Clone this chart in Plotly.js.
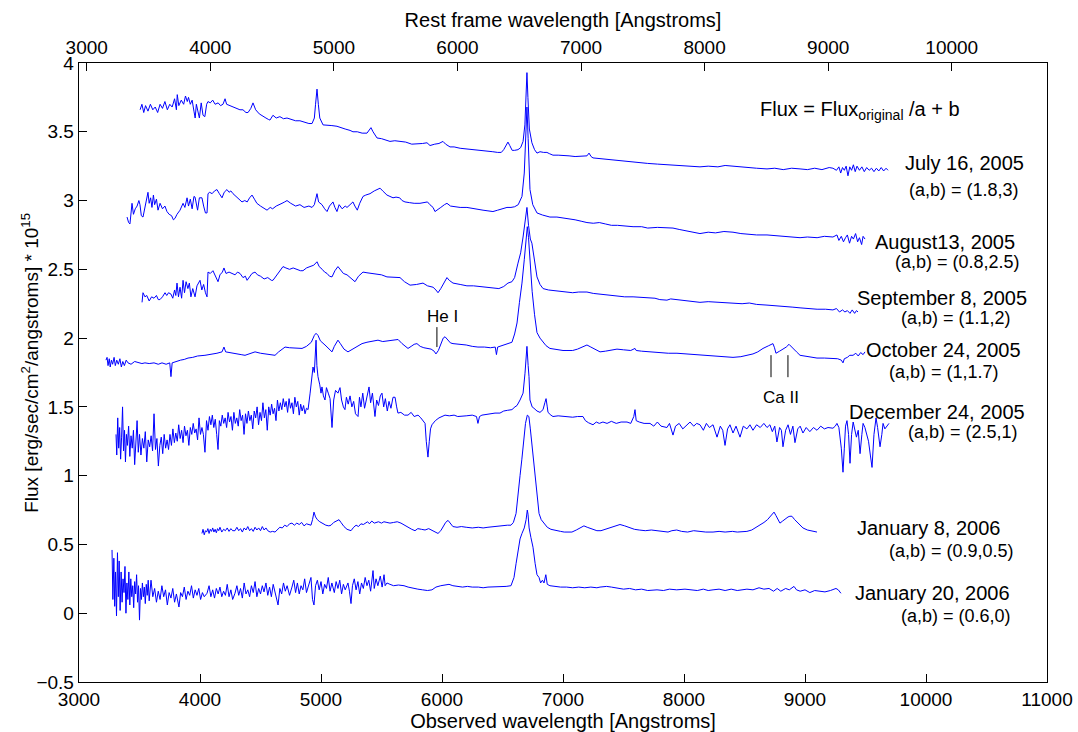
<!DOCTYPE html>
<html>
<head>
<meta charset="utf-8">
<script src="https://cdn.plot.ly/plotly-3.0.1.min.js"></script>
<style>html,body{margin:0;padding:0;background:#fff;}#chart{width:1078px;height:732px;}</style>
</head>
<body>
<div id="chart"></div>
<script>
// Observed wavelength [Angstrom], offset flux pairs
const july16 = [[3505,3.66],[3520,3.70],[3535,3.64],[3550,3.69],[3570,3.65],[3590,3.70],[3610,3.66],[3630,3.68],[3650,3.64],[3670,3.70],[3690,3.67],[3710,3.72],[3730,3.66],[3750,3.70],[3770,3.68],[3790,3.74],[3805,3.66],[3812,3.77],[3825,3.69],[3845,3.73],[3865,3.70],[3880,3.76],[3895,3.72],[3905,3.75],[3920,3.70],[3935,3.73],[3950,3.65],[3960,3.60],[3970,3.70],[3985,3.62],[3995,3.60],[4010,3.71],[4025,3.62],[4040,3.61],[4055,3.70],[4066,3.72],[4085,3.71],[4105,3.73],[4125,3.70],[4150,3.71],[4170,3.69],[4190,3.70],[4207,3.74],[4220,3.70],[4250,3.69],[4273,3.68],[4300,3.67],[4330,3.66],[4355,3.66],[4380,3.64],[4397,3.64],[4420,3.67],[4438,3.71],[4460,3.66],[4490,3.63],[4521,3.61],[4545,3.60],[4565,3.59],[4578,3.585],[4603,3.62],[4630,3.60],[4660,3.61],[4690,3.595],[4719,3.60],[4750,3.59],[4790,3.58],[4826,3.58],[4860,3.57],[4900,3.56],[4926,3.56],[4945,3.60],[4955,3.70],[4967,3.81],[4978,3.70],[4990,3.60],[5017,3.55],[5050,3.55],[5090,3.545],[5132,3.54],[5160,3.53],[5200,3.52],[5240,3.51],[5264,3.50],[5300,3.50],[5340,3.49],[5380,3.49],[5400,3.51],[5413,3.53],[5430,3.50],[5463,3.455],[5500,3.45],[5530,3.44],[5570,3.43],[5610,3.435],[5653,3.43],[5700,3.425],[5750,3.41],[5793,3.41],[5840,3.415],[5876,3.42],[5901,3.40],[5940,3.41],[5975,3.415],[6008,3.43],[6030,3.41],[6066,3.39],[6100,3.39],[6150,3.38],[6206,3.375],[6260,3.37],[6300,3.37],[6339,3.367],[6380,3.36],[6420,3.355],[6460,3.35],[6490,3.35],[6510,3.37],[6530,3.40],[6545,3.425],[6560,3.40],[6580,3.365],[6600,3.365],[6628,3.37],[6650,3.385],[6670,3.43],[6685,3.55],[6695,3.80],[6702,3.93],[6710,3.75],[6722,3.52],[6743,3.42],[6765,3.37],[6785,3.345],[6810,3.355],[6840,3.35],[6867,3.35],[6890,3.34],[6917,3.33],[6960,3.33],[7000,3.33],[7050,3.325],[7100,3.32],[7150,3.32],[7198,3.325],[7215,3.345],[7232,3.32],[7248,3.31],[7300,3.305],[7350,3.30],[7400,3.295],[7450,3.29],[7500,3.285],[7579,3.28],[7650,3.275],[7700,3.27],[7780,3.265],[7859,3.26],[7930,3.255],[8000,3.25],[8060,3.25],[8132,3.245],[8200,3.25],[8280,3.245],[8340,3.255],[8405,3.25],[8470,3.24],[8540,3.235],[8600,3.235],[8686,3.23],[8750,3.235],[8820,3.225],[8890,3.235],[8959,3.23],[9020,3.225],[9080,3.235],[9140,3.225],[9200,3.24],[9231,3.235],[9260,3.22],[9280,3.245],[9295,3.20],[9310,3.24],[9325,3.22],[9340,3.25],[9355,3.18],[9370,3.245],[9385,3.22],[9400,3.26],[9415,3.21],[9430,3.25],[9450,3.22],[9470,3.245],[9490,3.21],[9510,3.24],[9530,3.22],[9550,3.235],[9570,3.21],[9590,3.235],[9610,3.215],[9630,3.24],[9650,3.215],[9670,3.235],[9686,3.22]];

const august13 = [[3397,2.88],[3410,2.84],[3421,2.83],[3430,2.95],[3438,2.98],[3450,2.90],[3465,2.94],[3480,2.96],[3495,3.00],[3504,2.97],[3515,2.89],[3529,2.88],[3545,2.95],[3560,3.02],[3570,3.06],[3580,2.98],[3592,3.02],[3603,2.95],[3615,3.04],[3625,2.97],[3640,3.01],[3653,2.93],[3670,2.98],[3690,2.94],[3710,2.96],[3727,2.92],[3745,2.90],[3765,2.89],[3780,2.86],[3793,2.87],[3810,2.90],[3835,2.93],[3848,2.96],[3860,2.98],[3875,2.95],[3893,3.02],[3905,2.96],[3920,3.01],[3935,2.94],[3950,3.03],[3959,3.025],[3970,2.97],[3980,2.93],[3995,3.02],[4016,3.02],[4030,2.96],[4045,2.91],[4058,2.91],[4066,3.05],[4080,3.06],[4100,3.05],[4120,3.07],[4140,3.08],[4160,3.05],[4182,3.02],[4200,3.06],[4223,3.08],[4240,3.06],[4255,3.07],[4273,3.05],[4300,3.03],[4325,3.01],[4347,2.99],[4370,3.00],[4390,2.99],[4410,3.02],[4430,3.04],[4450,3.01],[4470,2.98],[4500,2.96],[4530,2.94],[4554,2.93],[4580,2.95],[4600,2.94],[4630,2.96],[4660,2.97],[4678,2.98],[4700,2.99],[4719,3.00],[4750,2.98],[4790,2.96],[4826,2.97],[4860,2.95],[4900,2.96],[4926,2.95],[4945,2.97],[4960,3.04],[4967,3.05],[4980,2.99],[5008,2.97],[5030,2.94],[5050,2.92],[5070,2.96],[5099,2.99],[5115,2.95],[5132,2.92],[5150,2.97],[5175,2.94],[5200,2.96],[5215,2.95],[5240,2.97],[5264,2.99],[5280,2.96],[5300,2.93],[5320,2.98],[5347,3.03],[5370,3.04],[5405,3.05],[5440,3.07],[5465,3.08],[5488,3.09],[5510,3.07],[5545,3.04],[5570,3.03],[5595,3.02],[5620,3.025],[5650,3.02],[5670,3.00],[5694,2.99],[5730,2.985],[5770,2.98],[5818,2.98],[5850,2.985],[5880,2.99],[5900,2.97],[5926,2.95],[5942,2.92],[5960,2.93],[5990,2.95],[6020,2.97],[6041,2.98],[6070,2.96],[6100,2.955],[6150,2.95],[6206,2.95],[6260,2.94],[6300,2.935],[6339,2.93],[6380,2.925],[6421,2.92],[6460,2.93],[6500,2.94],[6537,2.95],[6570,2.95],[6600,2.955],[6630,2.97],[6661,3.03],[6680,3.20],[6695,3.55],[6702,3.68],[6712,3.45],[6727,3.08],[6750,2.97],[6785,2.91],[6830,2.895],[6860,2.89],[6892,2.88],[6950,2.88],[7000,2.875],[7033,2.87],[7100,2.86],[7150,2.85],[7198,2.84],[7250,2.835],[7300,2.84],[7350,2.83],[7400,2.82],[7450,2.82],[7500,2.815],[7579,2.81],[7650,2.81],[7700,2.80],[7780,2.805],[7850,2.80],[7909,2.80],[7960,2.79],[8030,2.78],[8080,2.77],[8132,2.76],[8200,2.77],[8260,2.765],[8330,2.775],[8405,2.77],[8470,2.76],[8530,2.755],[8600,2.75],[8686,2.75],[8750,2.745],[8820,2.74],[8890,2.735],[8959,2.73],[9020,2.735],[9100,2.73],[9160,2.74],[9231,2.735],[9264,2.75],[9280,2.71],[9300,2.74],[9318,2.70],[9335,2.73],[9350,2.75],[9368,2.69],[9385,2.74],[9400,2.72],[9418,2.76],[9435,2.70],[9450,2.73],[9468,2.68],[9480,2.74],[9496,2.72]];

const september8 = [[3521,2.26],[3529,2.33],[3545,2.30],[3560,2.31],[3580,2.27],[3600,2.30],[3620,2.29],[3640,2.31],[3655,2.28],[3669,2.28],[3690,2.30],[3711,2.33],[3725,2.31],[3740,2.33],[3760,2.32],[3775,2.29],[3790,2.35],[3800,2.31],[3810,2.40],[3822,2.30],[3835,2.37],[3848,2.29],[3860,2.42],[3872,2.33],[3885,2.41],[3900,2.36],[3912,2.40],[3925,2.30],[3940,2.36],[3959,2.30],[3975,2.38],[3990,2.40],[4000,2.42],[4015,2.35],[4030,2.39],[4045,2.33],[4058,2.30],[4066,2.48],[4085,2.47],[4107,2.49],[4125,2.45],[4149,2.41],[4165,2.46],[4185,2.48],[4198,2.51],[4215,2.47],[4240,2.48],[4265,2.47],[4290,2.46],[4310,2.48],[4331,2.47],[4355,2.44],[4375,2.45],[4389,2.42],[4410,2.45],[4430,2.47],[4455,2.48],[4475,2.46],[4500,2.45],[4530,2.43],[4560,2.44],[4590,2.42],[4603,2.42],[4630,2.45],[4660,2.49],[4686,2.52],[4710,2.51],[4740,2.50],[4770,2.51],[4800,2.50],[4830,2.49],[4851,2.49],[4880,2.51],[4909,2.52],[4940,2.53],[4967,2.555],[4985,2.52],[5010,2.50],[5030,2.48],[5050,2.47],[5070,2.45],[5091,2.445],[5115,2.49],[5140,2.52],[5160,2.50],[5185,2.47],[5215,2.46],[5240,2.44],[5260,2.42],[5281,2.41],[5310,2.45],[5347,2.48],[5380,2.475],[5420,2.47],[5463,2.47],[5500,2.46],[5545,2.445],[5600,2.44],[5653,2.44],[5690,2.41],[5736,2.385],[5790,2.39],[5843,2.40],[5880,2.38],[5926,2.37],[5950,2.35],[5967,2.33],[5990,2.36],[6020,2.41],[6041,2.44],[6060,2.42],[6091,2.40],[6150,2.39],[6206,2.38],[6260,2.38],[6320,2.375],[6380,2.37],[6430,2.365],[6470,2.36],[6510,2.375],[6545,2.40],[6578,2.41],[6600,2.44],[6628,2.545],[6650,2.62],[6670,2.735],[6690,2.85],[6702,2.95],[6715,2.82],[6730,2.72],[6743,2.69],[6765,2.56],[6785,2.445],[6810,2.39],[6835,2.36],[6880,2.35],[6930,2.345],[6980,2.34],[7033,2.335],[7080,2.33],[7130,2.335],[7198,2.335],[7250,2.325],[7306,2.32],[7380,2.31],[7450,2.305],[7510,2.30],[7579,2.30],[7640,2.295],[7700,2.29],[7760,2.29],[7800,2.28],[7859,2.276],[7890,2.285],[7950,2.28],[8030,2.27],[8132,2.26],[8200,2.265],[8280,2.26],[8340,2.255],[8405,2.255],[8480,2.25],[8540,2.255],[8600,2.245],[8686,2.24],[8760,2.235],[8830,2.235],[8900,2.225],[8959,2.22],[9020,2.215],[9100,2.21],[9170,2.21],[9231,2.205],[9260,2.215],[9285,2.19],[9310,2.205],[9330,2.19],[9350,2.20],[9372,2.18],[9390,2.205],[9410,2.18],[9425,2.20],[9438,2.19]];

const october24 = [[3223,1.84],[3232,1.86],[3240,1.80],[3250,1.85],[3258,1.79],[3268,1.84],[3278,1.81],[3290,1.86],[3300,1.80],[3312,1.84],[3325,1.81],[3338,1.85],[3350,1.79],[3362,1.83],[3375,1.80],[3390,1.84],[3405,1.82],[3430,1.81],[3460,1.83],[3490,1.82],[3520,1.815],[3545,1.82],[3580,1.815],[3620,1.82],[3655,1.81],[3686,1.82],[3720,1.81],[3750,1.82],[3760,1.72],[3770,1.82],[3800,1.83],[3840,1.84],[3870,1.845],[3901,1.855],[3940,1.86],[3980,1.87],[4041,1.875],[4090,1.88],[4140,1.89],[4182,1.90],[4198,1.935],[4212,1.90],[4250,1.895],[4300,1.89],[4340,1.88],[4372,1.875],[4410,1.885],[4455,1.90],[4500,1.89],[4540,1.885],[4580,1.875],[4620,1.875],[4650,1.90],[4680,1.92],[4703,1.935],[4740,1.93],[4790,1.925],[4843,1.925],[4880,1.94],[4920,1.97],[4945,2.02],[4959,2.035],[4975,2.02],[4995,1.98],[5033,1.95],[5060,1.93],[5091,1.90],[5110,1.94],[5140,1.985],[5160,1.96],[5190,1.92],[5223,1.90],[5260,1.92],[5300,1.945],[5339,1.96],[5380,1.97],[5420,1.975],[5471,1.985],[5510,1.975],[5560,1.98],[5600,1.985],[5637,1.99],[5670,1.96],[5700,1.935],[5719,1.925],[5745,1.94],[5770,1.955],[5793,1.96],[5820,1.94],[5850,1.93],[5884,1.925],[5910,1.92],[5935,1.905],[5950,1.885],[5970,1.91],[5995,1.96],[6010,2.00],[6025,2.01],[6050,1.98],[6070,1.965],[6091,1.96],[6150,1.955],[6200,1.95],[6250,1.94],[6297,1.935],[6350,1.935],[6400,1.93],[6440,1.935],[6450,1.88],[6460,1.935],[6500,1.945],[6540,1.955],[6578,1.97],[6600,2.03],[6620,2.11],[6640,2.26],[6661,2.40],[6680,2.57],[6695,2.74],[6705,2.81],[6715,2.73],[6730,2.53],[6745,2.34],[6765,2.17],[6785,2.04],[6810,2.00],[6835,1.97],[6860,1.945],[6892,1.925],[6950,1.915],[7000,1.91],[7033,1.91],[7080,1.91],[7120,1.92],[7165,1.935],[7198,1.95],[7230,1.935],[7270,1.915],[7306,1.90],[7350,1.905],[7400,1.915],[7446,1.92],[7500,1.915],[7560,1.91],[7595,1.925],[7605,1.91],[7650,1.905],[7719,1.90],[7800,1.895],[7870,1.89],[7942,1.89],[8020,1.885],[8080,1.88],[8132,1.875],[8200,1.87],[8270,1.865],[8340,1.86],[8405,1.86],[8470,1.865],[8520,1.875],[8570,1.885],[8610,1.90],[8653,1.925],[8700,1.945],[8735,1.96],[8748,1.93],[8760,1.89],[8790,1.905],[8818,1.92],[8845,1.935],[8868,1.955],[8900,1.93],[8930,1.90],[8959,1.875],[9000,1.87],[9050,1.86],[9099,1.855],[9160,1.855],[9231,1.855],[9270,1.85],[9300,1.84],[9314,1.82],[9325,1.85],[9350,1.86],[9370,1.875],[9397,1.875],[9420,1.89],[9440,1.87],[9460,1.895],[9480,1.88],[9496,1.90]];

const december24 = [[3306,1.30],[3312,1.15],[3320,1.42],[3328,1.20],[3336,1.35],[3344,1.12],[3352,1.28],[3360,1.50],[3368,1.18],[3376,1.33],[3384,1.10],[3392,1.30],[3400,1.22],[3410,1.36],[3420,1.14],[3430,1.29],[3440,1.20],[3450,1.33],[3460,1.08],[3470,1.25],[3480,1.40],[3490,1.17],[3500,1.30],[3512,1.15],[3524,1.27],[3536,1.20],[3548,1.32],[3560,1.10],[3572,1.26],[3584,1.21],[3596,1.29],[3608,1.18],[3620,1.45],[3632,1.19],[3644,1.27],[3656,1.07],[3668,1.22],[3680,1.28],[3692,1.16],[3704,1.30],[3716,1.20],[3728,1.26],[3740,1.19],[3752,1.30],[3764,1.22],[3776,1.34],[3788,1.24],[3800,1.31],[3812,1.25],[3824,1.37],[3836,1.27],[3848,1.33],[3860,1.24],[3872,1.36],[3884,1.29],[3896,1.33],[3908,1.22],[3920,1.35],[3932,1.30],[3944,1.38],[3956,1.31],[3968,1.34],[3980,1.26],[3992,1.42],[4004,1.30],[4016,1.35],[4028,1.30],[4041,1.17],[4054,1.40],[4066,1.33],[4078,1.43],[4090,1.37],[4102,1.44],[4114,1.35],[4126,1.41],[4138,1.30],[4149,1.19],[4160,1.40],[4172,1.36],[4184,1.44],[4196,1.38],[4208,1.42],[4220,1.35],[4232,1.46],[4244,1.39],[4256,1.43],[4268,1.33],[4280,1.46],[4292,1.38],[4304,1.42],[4316,1.36],[4328,1.48],[4340,1.40],[4352,1.44],[4364,1.30],[4376,1.45],[4388,1.38],[4400,1.47],[4412,1.40],[4424,1.44],[4436,1.34],[4448,1.47],[4460,1.42],[4472,1.50],[4484,1.37],[4496,1.46],[4508,1.40],[4520,1.53],[4532,1.42],[4544,1.48],[4556,1.33],[4568,1.50],[4580,1.44],[4592,1.52],[4604,1.45],[4616,1.49],[4628,1.40],[4640,1.55],[4652,1.47],[4664,1.53],[4676,1.48],[4688,1.56],[4700,1.50],[4712,1.54],[4724,1.46],[4736,1.56],[4748,1.49],[4760,1.53],[4772,1.45],[4784,1.57],[4796,1.50],[4808,1.54],[4820,1.44],[4832,1.52],[4844,1.47],[4856,1.51],[4868,1.45],[4880,1.49],[4893,1.48],[4910,1.60],[4925,1.72],[4934,1.79],[4945,1.75],[4959,1.985],[4966,1.80],[4975,1.72],[4990,1.66],[5000,1.60],[5008,1.645],[5020,1.58],[5033,1.55],[5045,1.64],[5060,1.60],[5075,1.56],[5091,1.35],[5105,1.55],[5120,1.62],[5140,1.60],[5157,1.64],[5170,1.55],[5185,1.50],[5198,1.48],[5210,1.57],[5225,1.52],[5240,1.58],[5255,1.50],[5270,1.54],[5285,1.45],[5306,1.43],[5318,1.57],[5330,1.50],[5345,1.60],[5360,1.49],[5375,1.56],[5397,1.645],[5410,1.53],[5425,1.60],[5446,1.43],[5460,1.55],[5475,1.51],[5490,1.58],[5504,1.60],[5518,1.50],[5532,1.56],[5548,1.47],[5562,1.54],[5578,1.49],[5595,1.57],[5612,1.57],[5625,1.50],[5636,1.455],[5660,1.46],[5690,1.44],[5719,1.44],[5745,1.46],[5770,1.43],[5802,1.44],[5825,1.42],[5843,1.40],[5860,1.38],[5870,1.25],[5884,1.135],[5895,1.25],[5905,1.34],[5917,1.37],[5945,1.40],[5975,1.42],[6000,1.43],[6025,1.44],[6060,1.435],[6100,1.44],[6130,1.43],[6165,1.43],[6200,1.435],[6250,1.44],[6285,1.43],[6297,1.38],[6310,1.43],[6330,1.44],[6360,1.445],[6400,1.45],[6438,1.455],[6479,1.455],[6510,1.47],[6540,1.475],[6578,1.48],[6603,1.50],[6620,1.51],[6645,1.55],[6670,1.60],[6686,1.745],[6702,1.94],[6712,1.80],[6719,1.72],[6727,1.55],[6745,1.50],[6760,1.49],[6785,1.47],[6810,1.46],[6835,1.48],[6850,1.53],[6860,1.56],[6870,1.50],[6876,1.46],[6900,1.44],[6917,1.43],[6960,1.435],[7000,1.43],[7033,1.43],[7080,1.425],[7120,1.43],[7165,1.43],[7185,1.40],[7210,1.385],[7248,1.37],[7275,1.39],[7300,1.38],[7330,1.39],[7364,1.38],[7400,1.395],[7440,1.38],[7480,1.39],[7529,1.39],[7560,1.38],[7585,1.43],[7595,1.48],[7605,1.40],[7630,1.39],[7670,1.38],[7719,1.38],[7750,1.36],[7780,1.39],[7810,1.36],[7859,1.35],[7880,1.38],[7909,1.295],[7930,1.36],[7960,1.38],[7990,1.34],[8025,1.37],[8050,1.39],[8080,1.36],[8105,1.38],[8132,1.37],[8160,1.33],[8185,1.38],[8210,1.35],[8240,1.37],[8273,1.28],[8300,1.36],[8320,1.33],[8339,1.22],[8360,1.34],[8380,1.37],[8405,1.31],[8430,1.36],[8463,1.28],[8490,1.36],[8520,1.34],[8545,1.37],[8570,1.33],[8600,1.37],[8630,1.35],[8660,1.38],[8686,1.35],[8710,1.37],[8730,1.32],[8750,1.36],[8768,1.245],[8790,1.35],[8805,1.33],[8818,1.21],[8840,1.33],[8860,1.37],[8880,1.30],[8900,1.36],[8917,1.24],[8940,1.34],[8960,1.36],[8983,1.31],[9010,1.35],[9040,1.32],[9070,1.35],[9099,1.33],[9130,1.36],[9160,1.34],[9190,1.35],[9231,1.345],[9250,1.36],[9264,1.38],[9280,1.35],[9300,1.20],[9314,1.025],[9325,1.20],[9335,1.36],[9347,1.40],[9360,1.30],[9372,1.09],[9385,1.30],[9398,1.39],[9412,1.34],[9425,1.28],[9440,1.33],[9455,1.16],[9470,1.30],[9480,1.38],[9495,1.35],[9510,1.30],[9525,1.25],[9540,1.15],[9554,1.06],[9570,1.30],[9587,1.42],[9600,1.35],[9620,1.21],[9635,1.30],[9645,1.38],[9660,1.34],[9675,1.36],[9694,1.38]];

const january8 = [[4016,0.58],[4025,0.61],[4035,0.57],[4045,0.60],[4055,0.59],[4065,0.615],[4075,0.58],[4085,0.61],[4095,0.595],[4105,0.62],[4115,0.59],[4125,0.61],[4135,0.585],[4145,0.615],[4155,0.60],[4165,0.625],[4180,0.59],[4195,0.61],[4210,0.60],[4225,0.62],[4240,0.595],[4255,0.615],[4270,0.60],[4289,0.60],[4305,0.625],[4320,0.60],[4335,0.615],[4350,0.59],[4365,0.62],[4380,0.605],[4395,0.63],[4410,0.60],[4425,0.615],[4440,0.595],[4455,0.625],[4470,0.605],[4485,0.62],[4500,0.60],[4515,0.63],[4530,0.605],[4545,0.62],[4560,0.60],[4580,0.59],[4600,0.595],[4620,0.59],[4640,0.61],[4660,0.625],[4680,0.62],[4700,0.64],[4720,0.63],[4740,0.65],[4760,0.655],[4780,0.64],[4800,0.655],[4820,0.645],[4840,0.66],[4860,0.635],[4880,0.65],[4900,0.645],[4917,0.64],[4930,0.68],[4942,0.735],[4955,0.70],[4970,0.68],[4990,0.665],[5010,0.655],[5040,0.64],[5065,0.635],[5083,0.64],[5105,0.66],[5125,0.67],[5149,0.68],[5165,0.66],[5190,0.63],[5215,0.61],[5235,0.605],[5248,0.60],[5270,0.625],[5290,0.64],[5310,0.63],[5330,0.65],[5350,0.645],[5364,0.655],[5385,0.665],[5400,0.65],[5420,0.67],[5440,0.655],[5455,0.66],[5475,0.665],[5500,0.655],[5520,0.665],[5545,0.66],[5570,0.655],[5600,0.66],[5630,0.665],[5661,0.655],[5690,0.64],[5720,0.62],[5750,0.61],[5777,0.60],[5800,0.615],[5830,0.61],[5860,0.605],[5890,0.615],[5920,0.60],[5945,0.59],[5967,0.58],[5990,0.60],[6010,0.63],[6030,0.66],[6050,0.675],[6070,0.65],[6090,0.63],[6124,0.625],[6160,0.63],[6200,0.625],[6250,0.62],[6300,0.625],[6340,0.62],[6380,0.625],[6420,0.63],[6460,0.635],[6500,0.635],[6540,0.64],[6570,0.64],[6590,0.66],[6612,0.725],[6630,0.90],[6645,1.00],[6660,1.12],[6675,1.26],[6690,1.38],[6705,1.44],[6718,1.43],[6730,1.34],[6745,1.20],[6760,1.06],[6775,0.92],[6790,0.80],[6802,0.725],[6820,0.68],[6843,0.655],[6870,0.625],[6900,0.61],[6942,0.60],[6980,0.595],[7010,0.59],[7040,0.59],[7074,0.59],[7110,0.605],[7140,0.62],[7173,0.635],[7200,0.625],[7240,0.61],[7280,0.60],[7314,0.60],[7350,0.61],[7390,0.625],[7430,0.635],[7471,0.645],[7510,0.635],[7550,0.62],[7590,0.61],[7630,0.605],[7680,0.60],[7730,0.605],[7777,0.60],[7820,0.595],[7868,0.59],[7900,0.60],[7940,0.605],[7980,0.595],[8030,0.59],[8080,0.60],[8130,0.595],[8180,0.59],[8240,0.59],[8290,0.595],[8340,0.59],[8400,0.595],[8440,0.59],[8471,0.59],[8520,0.595],[8560,0.605],[8600,0.625],[8630,0.64],[8661,0.66],[8690,0.68],[8710,0.70],[8730,0.72],[8744,0.735],[8760,0.71],[8775,0.68],[8793,0.655],[8815,0.67],[8840,0.69],[8860,0.70],[8875,0.705],[8892,0.705],[8915,0.68],[8940,0.655],[8960,0.635],[8983,0.62],[9020,0.605],[9060,0.60],[9099,0.59]];

const january20 = [[3273,0.46],[3280,0.10],[3288,0.40],[3295,0.05],[3302,0.30],[3310,-0.02],[3318,0.44],[3325,0.12],[3332,0.38],[3340,0.02],[3348,0.30],[3356,0.08],[3364,0.25],[3372,0.15],[3380,0.34],[3388,0.00],[3396,0.22],[3404,0.10],[3412,0.30],[3420,0.06],[3428,0.25],[3436,0.12],[3444,0.20],[3452,0.04],[3460,0.23],[3468,0.14],[3476,0.28],[3484,0.08],[3492,0.20],[3500,-0.05],[3508,0.18],[3516,0.10],[3524,0.22],[3532,0.12],[3540,0.19],[3548,0.07],[3556,0.21],[3564,0.13],[3572,0.24],[3580,0.09],[3595,0.24],[3610,0.12],[3625,0.18],[3640,0.08],[3655,0.16],[3670,0.10],[3685,0.20],[3700,0.12],[3715,0.17],[3730,0.06],[3745,0.15],[3760,0.11],[3775,0.18],[3790,0.08],[3805,0.14],[3826,0.045],[3840,0.15],[3855,0.12],[3870,0.19],[3885,0.10],[3900,0.16],[3915,0.13],[3930,0.20],[3945,0.11],[3960,0.17],[3975,0.13],[3990,0.18],[4005,0.10],[4020,0.15],[4035,0.12],[4058,0.145],[4075,0.20],[4090,0.12],[4105,0.17],[4120,0.11],[4135,0.18],[4150,0.14],[4165,0.19],[4180,0.12],[4195,0.16],[4210,0.13],[4225,0.21],[4240,0.12],[4255,0.17],[4270,0.10],[4289,0.145],[4305,0.20],[4320,0.13],[4335,0.18],[4350,0.11],[4365,0.22],[4380,0.14],[4395,0.17],[4410,0.12],[4425,0.20],[4440,0.15],[4455,0.23],[4470,0.12],[4485,0.18],[4500,0.14],[4515,0.20],[4529,0.155],[4545,0.22],[4560,0.13],[4575,0.19],[4590,0.12],[4605,0.21],[4620,0.15],[4645,0.06],[4660,0.18],[4675,0.14],[4690,0.22],[4705,0.16],[4720,0.20],[4740,0.13],[4760,0.19],[4775,0.24],[4790,0.15],[4805,0.22],[4820,0.14],[4835,0.20],[4850,0.17],[4865,0.25],[4880,0.15],[4900,0.22],[4917,0.26],[4930,0.10],[4942,0.06],[4955,0.20],[4970,0.24],[4985,0.17],[5000,0.23],[5015,0.14],[5030,0.21],[5045,0.18],[5060,0.26],[5075,0.16],[5090,0.22],[5110,0.15],[5125,0.23],[5140,0.18],[5155,0.24],[5170,0.14],[5185,0.21],[5200,0.17],[5223,0.22],[5235,0.16],[5248,0.07],[5260,0.20],[5275,0.25],[5290,0.17],[5305,0.23],[5320,0.14],[5335,0.22],[5350,0.18],[5365,0.26],[5380,0.20],[5395,0.24],[5410,0.16],[5430,0.31],[5440,0.18],[5455,0.25],[5470,0.20],[5490,0.27],[5505,0.19],[5521,0.28],[5530,0.20],[5545,0.22],[5570,0.21],[5600,0.20],[5640,0.205],[5686,0.20],[5720,0.19],[5760,0.18],[5800,0.175],[5840,0.17],[5880,0.165],[5917,0.17],[5950,0.19],[5990,0.20],[6030,0.205],[6058,0.21],[6090,0.20],[6130,0.195],[6170,0.19],[6210,0.195],[6250,0.19],[6300,0.19],[6340,0.185],[6380,0.19],[6430,0.19],[6480,0.195],[6530,0.195],[6570,0.20],[6595,0.26],[6612,0.36],[6630,0.47],[6645,0.54],[6661,0.58],[6680,0.62],[6695,0.68],[6705,0.75],[6711,0.72],[6720,0.62],[6735,0.55],[6752,0.48],[6770,0.36],[6785,0.28],[6802,0.26],[6815,0.22],[6830,0.24],[6843,0.22],[6858,0.28],[6870,0.21],[6892,0.20],[6930,0.195],[6980,0.19],[7030,0.19],[7080,0.185],[7130,0.19],[7180,0.185],[7230,0.19],[7280,0.185],[7306,0.19],[7360,0.195],[7400,0.19],[7450,0.18],[7500,0.175],[7550,0.18],[7600,0.17],[7650,0.175],[7700,0.165],[7777,0.17],[7830,0.165],[7880,0.175],[7940,0.17],[8008,0.175],[8060,0.17],[8110,0.165],[8160,0.175],[8200,0.165],[8240,0.17],[8290,0.175],[8340,0.165],[8390,0.175],[8440,0.165],[8471,0.17],[8520,0.175],[8570,0.17],[8620,0.185],[8660,0.175],[8703,0.18],[8740,0.16],[8770,0.18],[8800,0.16],[8840,0.18],[8870,0.17],[8909,0.195],[8930,0.17],[8960,0.16],[9000,0.17],[9040,0.15],[9080,0.165],[9120,0.16],[9165,0.155],[9210,0.165],[9256,0.18],[9275,0.17],[9297,0.145]];

const seriesList = [july16, august13, september8, october24, december24, january8, january20];
const dateLabels = ["July 16, 2005", "August13, 2005", "September 8, 2005", "October 24, 2005", "December 24, 2005", "January 8, 2006", "January 20, 2006"];
const scaleLabels = ["(a,b) = (1.8,3)", "(a,b) = (0.8,2.5)", "(a,b) = (1.1,2)", "(a,b) = (1,1.7)", "(a,b) = (2.5,1)", "(a,b) = (0.9,0.5)", "(a,b) = (0.6,0)"];
const obsTicks = [3000, 4000, 5000, 6000, 7000, 8000, 9000, 10000, 11000];
const obsTickText = ["3000", "4000", "5000", "6000", "7000", "8000", "9000", "10000", "11000"];
const restTicks = [3000, 4000, 5000, 6000, 7000, 8000, 9000, 10000];
const restTickText = ["3000", "4000", "5000", "6000", "7000", "8000", "9000", "10000"];
const fluxTicks = [-0.5, 0, 0.5, 1, 1.5, 2, 2.5, 3, 3.5, 4];
const fluxTickText = ["\u22120.5", "0", "0.5", "1", "1.5", "2", "2.5", "3", "3.5", "4"];
const redshiftFactor = 1.0213;
const obsRange = [3000, 11000];
const lineIds = [
  {name: "He I", x: 5958, y0: 1.935, y1: 2.08},
  {name: "Ca II", x: 8719, y0: 1.716, y1: 1.876},
  {name: "Ca II", x: 8859, y0: 1.716, y1: 1.876}
];

const FONT = "Liberation Sans, Arial, Helvetica, sans-serif";

const traces = seriesList.map((s, i) => ({
  type: "scatter", mode: "lines",
  x: s.map(p => p[0]), y: s.map(p => p[1]),
  name: dateLabels[i],
  line: {color: "#0000ff", width: 1},
  hoverinfo: "x+y+name",
  xaxis: "x", yaxis: "y"
}));
// same spectrum expressed in rest-frame wavelength, only to carry the top axis (not visible)
traces.push({
  type: "scatter", mode: "lines",
  x: july16.map(p => p[0] / redshiftFactor), y: july16.map(p => p[1]),
  line: {color: "rgba(0,0,0,0)", width: 0}, opacity: 0, hoverinfo: "skip", showlegend: false,
  xaxis: "x2", yaxis: "y"
});

// placement of the per-spectrum labels (data coords: left x, centre y)
const datePos = [[9810,3.273],[9562,2.698],[9413,2.291],[9488,1.913],[9347,1.462],[9413,0.618],[9396,0.145]];
const scalePos = [[9843,3.076],[9727,2.553],[9777,2.145],[9677,1.753],[9835,1.316],[9677,0.451],[9777,-0.022]];

const annotations = [];
dateLabels.forEach((t, i) => annotations.push({
  x: datePos[i][0], y: datePos[i][1], xref: "x", yref: "y", text: t, showarrow: false,
  xanchor: "left", yanchor: "middle", font: {family: FONT, size: 20, color: "#000"}
}));
scaleLabels.forEach((t, i) => annotations.push({
  x: scalePos[i][0], y: scalePos[i][1], xref: "x", yref: "y", text: t, showarrow: false,
  xanchor: "left", yanchor: "middle", font: {family: FONT, size: 18, color: "#000"}
}));
annotations.push({x: 8611, y: 3.658, xref: "x", yref: "y", xanchor: "left", yanchor: "middle", showarrow: false,
  text: "Flux = Flux<sub>original</sub> /a + b", font: {family: FONT, size: 20, color: "#000"}});
annotations.push({x: 6000, y: 2.16, xref: "x", yref: "y", showarrow: false, text: "He I",
  font: {family: FONT, size: 17, color: "#000"}});
annotations.push({x: 8801, y: 1.571, xref: "x", yref: "y", showarrow: false, text: "Ca II",
  font: {family: FONT, size: 17, color: "#000"}});
// y-axis title placed as rotated annotation
annotations.push({x: -0.05, y: 0.515, xref: "paper", yref: "paper", showarrow: false, textangle: -90,
  xanchor: "center", yanchor: "middle",
  text: "Flux [erg/sec/cm<sup>2</sup>/angstroms] * 10<sup>15</sup>", font: {family: FONT, size: 19, color: "#000"}});

const shapes = lineIds.map(l => ({type: "line", xref: "x", yref: "y", x0: l.x, x1: l.x, y0: l.y0, y1: l.y1,
  line: {color: "#000", width: 1}}));

const axisCommon = {
  showgrid: false, zeroline: false, showline: true, linecolor: "#000", linewidth: 1.3,
  ticks: "inside", ticklen: 8, tickwidth: 1, tickcolor: "#000",
  tickfont: {family: FONT, size: 19, color: "#000"}
};

const layout = {
  width: 1078, height: 732,
  paper_bgcolor: "#fff", plot_bgcolor: "#fff",
  margin: {l: 79, r: 31, t: 63, b: 50, pad: 0},
  showlegend: false,
  font: {family: FONT, color: "#000"},
  xaxis: Object.assign({}, axisCommon, {
    range: obsRange, tickmode: "array", tickvals: obsTicks, ticktext: obsTickText, mirror: false,
    title: {text: "Observed wavelength [Angstroms]", font: {family: FONT, size: 20, color: "#000"}, standoff: 0}
  }),
  xaxis2: Object.assign({}, axisCommon, {
    overlaying: "x", side: "top", anchor: "y",
    range: obsRange.map(v => v / redshiftFactor), tickmode: "array", tickvals: restTicks, ticktext: restTickText,
    title: {text: "Rest frame wavelength [Angstroms]", font: {family: FONT, size: 20, color: "#000"}, standoff: 4}
  }),
  yaxis: Object.assign({}, axisCommon, {
    range: [-0.5, 4], tickmode: "array", tickvals: fluxTicks, ticktext: fluxTickText, mirror: true
  }),
  annotations: annotations,
  shapes: shapes
};

Plotly.newPlot("chart", traces, layout, {displayModeBar: false, staticPlot: true});
</script>
</body>
</html>
